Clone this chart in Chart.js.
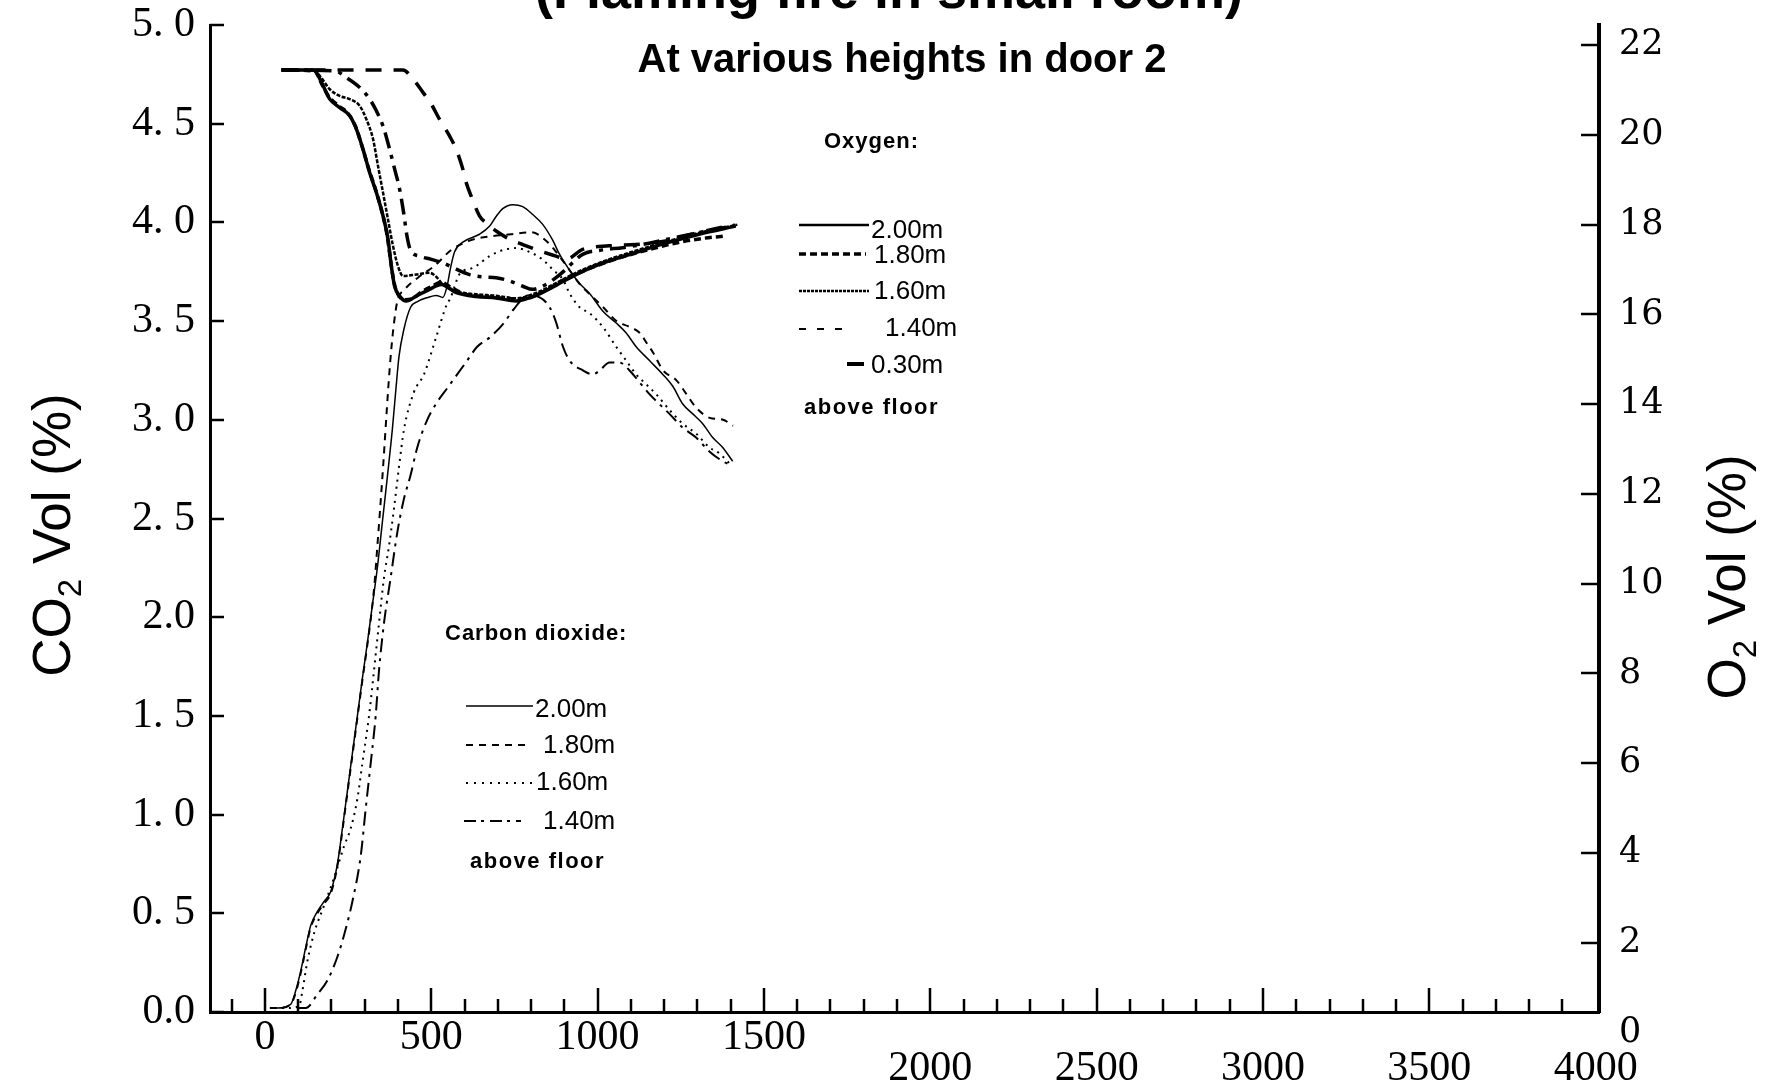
<!DOCTYPE html>
<html><head><meta charset="utf-8">
<script src="https://cdn.jsdelivr.net/npm/chart.js@4/dist/chart.umd.min.js"></script>
<style>html,body{margin:0;padding:0;background:#fff;overflow:hidden}
#wrap{position:absolute;left:0;top:0;width:1775px;height:1092px}</style>
</head><body><div id="wrap"><canvas id="c" width="1775" height="1092"></canvas></div>
<script>
// ---------- text ----------
const titleText = '(Flaming fire in small room)';
const subtitleText = 'At various heights in door 2';
const o2LegendTitle = 'Oxygen:';
const co2LegendTitle = 'Carbon dioxide:';
const legendFooter = 'above floor';
const o2Heights = ['2.00m', '1.80m', '1.60m', '1.40m', '0.30m'];
const co2Heights = ['2.00m', '1.80m', '1.60m', '1.40m'];

// ---------- ticks ----------
const xTickValues = [0, 500, 1000, 1500, 2000, 2500, 3000, 3500, 4000];
const xMinorTicks = [-100, 0, 100, 200, 300, 400, 500, 600, 700, 800, 900, 1000, 1100, 1200, 1300, 1400, 1500, 1600, 1700, 1800, 1900, 2000, 2100, 2200, 2300, 2400, 2500, 2600, 2700, 2800, 2900, 3000, 3100, 3200, 3300, 3400, 3500, 3600, 3700, 3800, 3900];
const co2TickValues = [0, 0.5, 1, 1.5, 2, 2.5, 3, 3.5, 4, 4.5, 5];
const co2TickLabels = ['0.0', '0. 5', '1. 0', '1. 5', '2.0', '2. 5', '3. 0', '3. 5', '4. 0', '4. 5', '5. 0'];
const o2TickValues = [0, 2, 4, 6, 8, 10, 12, 14, 16, 18, 20, 22];
const o2TickLabels = ['0', '2', '4', '6', '8', '10', '12', '14', '16', '18', '20', '22'];

// ---------- O2 series [time, vol %] ----------
const o2_200 = [[50,21.45],[145,21.45],[155,21.39],[175,21.10],[195,20.80],[225,20.61],[255,20.43],[275,20.13],[295,19.68],[315,19.16],[335,18.72],[355,18.20],[370,17.68],[380,17.08],[390,16.63],[405,16.41],[425,16.30],[455,16.41],[495,16.56],[530,16.67],[575,16.49],[635,16.40],[695,16.37],[755,16.30],[815,16.43],[875,16.65],[935,16.89],[1005,17.12],[1105,17.36],[1205,17.59],[1305,17.79],[1415,17.97]];
const o2_180 = [[50,21.45],[150,21.42],[170,21.15],[190,20.88],[220,20.66],[250,20.48],[272,20.20],[292,19.75],[312,19.25],[332,18.80],[352,18.28],[367,17.78],[378,17.20],[388,16.72],[400,16.45],[420,16.33],[445,16.36],[470,16.50],[500,16.62],[530,16.72],[560,16.60],[600,16.46],[660,16.40],[720,16.36],[780,16.35],[840,16.52],[900,16.78],[960,16.98],[1040,17.20],[1140,17.42],[1240,17.60],[1320,17.70],[1385,17.75]];
const o2_160 = [[50,21.45],[145,21.45],[165,21.32],[195,21.02],[225,20.87],[255,20.80],[285,20.65],[305,20.35],[325,19.91],[340,19.31],[355,18.72],[370,18.12],[385,17.53],[400,17.08],[415,16.86],[455,16.89],[495,16.93],[515,16.84],[535,16.67],[575,16.52],[635,16.45],[695,16.42],[755,16.36],[815,16.48],[875,16.70],[935,16.93],[1005,17.15],[1105,17.40],[1205,17.62],[1305,17.82],[1420,18.00]];
const o2_140 = [[50,21.45],[210,21.43],[245,21.28],[285,21.06],[315,20.80],[335,20.54],[355,20.20],[375,19.68],[390,19.24],[405,18.79],[417,18.27],[427,17.75],[437,17.45],[465,17.30],[500,17.23],[535,17.15],[575,17.01],[615,16.89],[655,16.84],[695,16.82],[735,16.75],[775,16.63],[805,16.56],[835,16.63],[875,16.82],[905,17.01],[930,17.19],[955,17.34],[1015,17.44],[1075,17.49],[1155,17.59],[1255,17.75],[1355,17.90],[1415,17.99]];
const o2_030 = [[50,21.45],[415,21.45],[445,21.25],[475,20.95],[500,20.69],[525,20.35],[555,19.98],[575,19.68],[595,19.24],[605,18.94],[620,18.64],[645,18.20],[670,18.01],[695,17.86],[735,17.68],[775,17.56],[825,17.42],[875,17.30],[905,17.23],[955,17.45],[1035,17.53],[1115,17.56],[1205,17.64],[1305,17.83],[1410,18.00]];

// ---------- CO2 series [time, vol %] ----------
const co2_200 = [[15,0.02],[38,0.02],[78,0.04],[93,0.11],[108,0.21],[123,0.33],[138,0.44],[158,0.51],[178,0.56],[198,0.61],[218,0.75],[233,0.93],[248,1.12],[263,1.31],[278,1.50],[293,1.69],[308,1.87],[323,2.06],[338,2.25],[353,2.48],[368,2.71],[383,2.95],[393,3.14],[403,3.32],[418,3.46],[438,3.57],[460,3.60],[490,3.62],[515,3.63],[535,3.62],[548,3.68],[558,3.77],[570,3.85],[595,3.90],[645,3.94],[675,3.98],[695,4.03],[715,4.07],[745,4.09],[775,4.08],[805,4.04],[835,3.99],[865,3.91],[885,3.84],[915,3.76],[946,3.69],[976,3.64],[1016,3.55],[1056,3.49],[1086,3.44],[1116,3.37],[1156,3.30],[1196,3.23],[1226,3.17],[1256,3.08],[1286,3.03],[1316,2.98],[1346,2.91],[1376,2.86],[1406,2.79]];
const co2_180 = [[15,0.02],[38,0.02],[78,0.04],[93,0.10],[108,0.20],[123,0.32],[138,0.43],[158,0.50],[178,0.55],[198,0.60],[218,0.74],[233,0.92],[248,1.11],[263,1.30],[278,1.49],[293,1.68],[308,1.86],[323,2.06],[330,2.18],[338,2.36],[346,2.54],[356,2.78],[366,3.04],[376,3.28],[386,3.46],[398,3.60],[420,3.66],[460,3.72],[510,3.78],[560,3.86],[620,3.91],[680,3.93],[740,3.94],[800,3.95],[850,3.90],[880,3.84],[915,3.76],[950,3.68],[987,3.62],[1017,3.57],[1057,3.50],[1097,3.47],[1127,3.44],[1147,3.39],[1167,3.34],[1197,3.25],[1237,3.20],[1267,3.13],[1297,3.06],[1337,3.01],[1377,3.00],[1407,2.97]];
const co2_160 = [[30,0.02],[65,0.02],[103,0.03],[113,0.11],[128,0.26],[148,0.40],[178,0.54],[208,0.68],[238,0.84],[258,0.93],[278,1.08],[293,1.26],[313,1.50],[328,1.73],[343,1.97],[358,2.20],[373,2.36],[388,2.55],[403,2.76],[418,2.95],[448,3.14],[478,3.23],[515,3.42],[548,3.59],[556,3.61],[586,3.74],[626,3.77],[676,3.83],[716,3.86],[756,3.87],[796,3.85],[836,3.81],[866,3.76],[896,3.71],[916,3.64],[946,3.57],[976,3.54],[1016,3.47],[1056,3.37],[1086,3.30],[1116,3.23],[1146,3.18],[1176,3.13],[1216,3.05],[1256,2.98],[1296,2.93],[1336,2.86],[1366,2.83],[1396,2.78]];
const co2_140 = [[100,0.02],[123,0.02],[158,0.09],[188,0.16],[218,0.28],[238,0.39],[263,0.56],[288,0.79],[303,1.03],[318,1.26],[333,1.50],[343,1.73],[358,1.97],[378,2.20],[398,2.43],[418,2.60],[438,2.72],[458,2.86],[488,3.00],[518,3.09],[548,3.16],[578,3.23],[608,3.30],[638,3.37],[678,3.42],[718,3.49],[748,3.56],[790,3.63],[826,3.62],[856,3.57],[876,3.49],[896,3.37],[916,3.30],[956,3.25],[986,3.23],[1006,3.25],[1036,3.29],[1066,3.29],[1096,3.25],[1126,3.19],[1156,3.13],[1216,3.03],[1256,2.96],[1296,2.91],[1336,2.84],[1376,2.79],[1401,2.77]];

// ---------- styles ----------
const O2_STYLES = [
  {w: 3.5, dash: []},
  {w: 3.5, dash: [7, 4]},
  {w: 2.5, dash: [4, 1.5]},
  {w: 3.5, dash: [16, 7, 4, 7]},
  {w: 3.5, dash: [16, 12]}
];
const CO2_STYLES = [
  {w: 1.5, dash: []},
  {w: 2, dash: [7, 6]},
  {w: 2, dash: [2, 5]},
  {w: 2, dash: [14, 6, 3, 6]}
];
const SANS = '"Liberation Sans", Arial, Helvetica, sans-serif';
const SERIF = '"Liberation Serif", "Times New Roman", serif';
const SERIF2 = '"DejaVu Serif", serif';

function toXY(arr) { return arr.map(p => ({x: p[0], y: p[1]})); }
function ds(label, arr, st, axis) {
  return {label, data: toXY(arr), yAxisID: axis, borderColor: '#000', backgroundColor: '#000',
    borderWidth: st.w, borderDash: st.dash, pointRadius: 0, fill: false,
    cubicInterpolationMode: 'monotone', borderCapStyle: 'butt', borderJoinStyle: 'round'};
}
const o2Series = [o2_200, o2_180, o2_160, o2_140, o2_030];
const co2Series = [co2_200, co2_180, co2_160, co2_140];
const datasets = [];
co2Series.forEach((s, i) => datasets.push(ds('CO\u2082 ' + co2Heights[i], s, CO2_STYLES[i], 'y')));
o2Series.forEach((s, i) => datasets.push(ds('O\u2082 ' + o2Heights[i], s, O2_STYLES[i], 'y2')));

function txt(ctx, s, x, y, font, align, spacing) {
  ctx.font = font; ctx.textAlign = align || 'left'; ctx.textBaseline = 'middle';
  if ('letterSpacing' in ctx) ctx.letterSpacing = spacing || '0px';
  ctx.fillText(s, x, y);
  if ('letterSpacing' in ctx) ctx.letterSpacing = '0px';
}
function sample(ctx, x1, x2, y, w, dash) {
  ctx.save(); ctx.lineWidth = w; ctx.setLineDash(dash); ctx.lineCap = 'butt';
  ctx.beginPath(); ctx.moveTo(x1, y); ctx.lineTo(x2, y); ctx.stroke(); ctx.restore();
}
function vTitle(ctx, cx, cy, main, sub, rest, size) {
  ctx.save(); ctx.translate(cx, cy); ctx.rotate(-Math.PI / 2);
  const f = size + 'px ' + SANS, fs = Math.round(size * 0.62) + 'px ' + SANS;
  ctx.font = f; const w1 = ctx.measureText(main).width, w3 = ctx.measureText(rest).width;
  ctx.font = fs; const w2 = ctx.measureText(sub).width;
  let x = -(w1 + w2 + w3) / 2; const base = size * 0.36;
  ctx.textAlign = 'left'; ctx.textBaseline = 'alphabetic';
  ctx.font = f; ctx.fillText(main, x, base); x += w1;
  ctx.font = fs; ctx.fillText(sub, x, base + size * 0.2); x += w2;
  ctx.font = f; ctx.fillText(rest, x, base);
  ctx.restore();
}

const decor = {
  id: 'decor',
  afterDraw(chart) {
    const ctx = chart.ctx;
    const ca = chart.chartArea;
    const xs = chart.scales.x, ys = chart.scales.y, y2 = chart.scales.y2;
    ctx.save();
    ctx.strokeStyle = '#000'; ctx.fillStyle = '#000';
    // inward tick marks
    ctx.lineWidth = 2.5;
    xMinorTicks.forEach(v => {
      const px = Math.round(xs.getPixelForValue(v));
      const len = (v % 500 === 0) ? 24 : 13;
      ctx.beginPath(); ctx.moveTo(px, ca.bottom); ctx.lineTo(px, ca.bottom - len); ctx.stroke();
    });
    co2TickValues.forEach(v => {
      const py = Math.round(ys.getPixelForValue(v));
      ctx.beginPath(); ctx.moveTo(ca.left, py); ctx.lineTo(ca.left + 14, py); ctx.stroke();
    });
    o2TickValues.forEach(v => {
      const py = Math.round(y2.getPixelForValue(v));
      if (py > ca.bottom) return;
      ctx.beginPath(); ctx.moveTo(ca.right, py); ctx.lineTo(ca.right - 18, py); ctx.stroke();
    });
    // right-axis labels below the plot bottom (e.g. 0) are drawn here if the scale skipped them
    ctx.font = '35px ' + SERIF2; ctx.textAlign = 'left'; ctx.textBaseline = 'middle';
    o2TickValues.forEach((v, i) => {
      const py = y2.getPixelForValue(v);
      if (py > ca.bottom) ctx.fillText(o2TickLabels[i], ca.right + 20, py);
    });
    // titles
    ctx.font = 'bold 54px ' + SANS; ctx.textAlign = 'center'; ctx.textBaseline = 'alphabetic';
    ctx.fillText(titleText, 889, 8);
    ctx.font = 'bold 40px ' + SANS;
    ctx.fillText(subtitleText, 902, 72);
    // oxygen legend
    txt(ctx, o2LegendTitle, 824, 142, 'bold 22px ' + SANS, 'left', '1px');
    const o2Rows = [
      {x1: 799, x2: 869, ly: 225, tx: 871, ty: 231},
      {x1: 799, x2: 866, ly: 254, tx: 874, ty: 256},
      {x1: 799, x2: 869, ly: 291, tx: 874, ty: 292},
      {x1: 799, x2: 849, ly: 329, tx: 885, ty: 329},
      {x1: 847, x2: 864, ly: 364, tx: 871, ty: 366}
    ];
    const o2Samples = [{w: 2.5, dash: []}, {w: 3.5, dash: [7, 4]}, {w: 2.5, dash: [3, 1]}, {w: 2, dash: [7, 11]}, {w: 4, dash: []}];
    o2Rows.forEach((r, i) => {
      sample(ctx, r.x1, r.x2, r.ly, o2Samples[i].w, o2Samples[i].dash);
      txt(ctx, o2Heights[i], r.tx, r.ty, '26px ' + SANS, 'left');
    });
    txt(ctx, legendFooter, 804, 408, 'bold 22px ' + SANS, 'left', '1.5px');
    // carbon dioxide legend
    txt(ctx, co2LegendTitle, 445, 634, 'bold 22px ' + SANS, 'left', '1px');
    const co2Rows = [
      {x1: 466, x2: 533, ly: 706, tx: 535, ty: 710},
      {x1: 466, x2: 526, ly: 745, tx: 543, ty: 746},
      {x1: 466, x2: 534, ly: 783, tx: 536, ty: 783},
      {x1: 464, x2: 521, ly: 821, tx: 543, ty: 822}
    ];
    const co2Samples = [{w: 1.5, dash: []}, {w: 2, dash: [7, 6]}, {w: 2, dash: [2, 6]}, {w: 2, dash: [12, 5, 3, 6]}];
    co2Rows.forEach((r, i) => {
      sample(ctx, r.x1, r.x2, r.ly, co2Samples[i].w, co2Samples[i].dash);
      txt(ctx, co2Heights[i], r.tx, r.ty, '26px ' + SANS, 'left');
    });
    txt(ctx, legendFooter, 470, 862, 'bold 22px ' + SANS, 'left', '1.5px');
    // axis titles
    vTitle(ctx, 51, 535, 'CO', '2', ' Vol (%)', 53);
    vTitle(ctx, 1726, 577, 'O', '2', ' Vol (%)', 53);
    ctx.restore();
  }
};

new Chart(document.getElementById('c').getContext('2d'), {
  type: 'line',
  data: {datasets},
  plugins: [decor],
  options: {
    responsive: false, animation: false, devicePixelRatio: 1,
    layout: {padding: {top: 25, left: 0, right: 0, bottom: 0}},
    plugins: {legend: {display: false}, title: {display: false}, tooltip: {enabled: false}},
    scales: {
      x: {
        type: 'linear', position: 'bottom', min: -165, max: 4010,
        grid: {display: false, drawTicks: false},
        border: {display: true, color: '#000', width: 3},
        afterBuildTicks: s => { s.ticks = xTickValues.map(v => ({value: v})); },
        afterFit: s => { s.height = 80; s.paddingLeft = 0; s.paddingRight = 0; },
        ticks: {autoSkip: false, maxRotation: 0, padding: 10, color: '#000',
          font: {family: SERIF, size: 42, lineHeight: '31px'},
          callback: v => v >= 2000 ? ['', String(v)] : String(v)}
      },
      y: {
        type: 'linear', position: 'left', min: 0, max: 5,
        grid: {display: false, drawTicks: false},
        border: {display: true, color: '#000', width: 3},
        afterBuildTicks: s => { s.ticks = co2TickValues.map(v => ({value: v})); },
        afterFit: s => { s.width = 210; s.paddingTop = 0; s.paddingBottom = 0; },
        ticks: {padding: 15, color: '#000', autoSkip: false, font: {family: SERIF, size: 42},
          callback: v => co2TickLabels[co2TickValues.indexOf(v)]}
      },
      y2: {
        type: 'linear', position: 'right', min: 0.455, max: 22.452,
        grid: {display: false, drawTicks: false},
        border: {display: true, color: '#000', width: 4},
        afterBuildTicks: s => { s.ticks = o2TickValues.filter(v => v > 0.455).map(v => ({value: v})); },
        afterFit: s => { s.width = 176; s.paddingTop = 0; s.paddingBottom = 0; },
        ticks: {padding: 20, color: '#000', autoSkip: false, font: {family: SERIF2, size: 35},
          callback: v => o2TickLabels[o2TickValues.indexOf(v)]}
      }
    }
  }
});
</script></body></html>
